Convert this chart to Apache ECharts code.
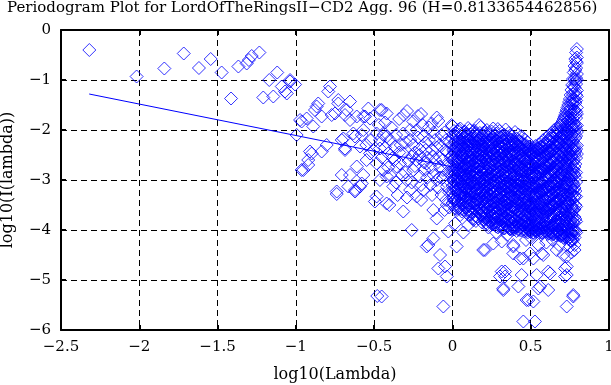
<!DOCTYPE html>
<html>
<head>
<meta charset="utf-8">
<script src="https://cdn.jsdelivr.net/npm/echarts@6/dist/echarts.min.js"></script>
<style>html,body{margin:0;padding:0;background:#fff}#c{width:611px;height:385px}</style>
</head>
<body>
<div id="c"></div>
<script>
// ---- data ----
const titleText = "Periodogram Plot for LordOfTheRingsII\u2212CD2 Agg. 96 (H=0.8133654462856)";
const xName = "log10(Lambda)";
const yName = "log10(I(lambda))";

// sparse low-frequency points [log10(lambda), log10(I)]
const leftPts = [
 [-2.319,-0.40],[-2.017,-0.93],[-1.84,-0.77],[-1.716,-0.47],[-1.619,-0.76],[-1.544,-0.58],
 [-1.474,-0.85],[-1.414,-1.37],[-1.367,-0.73],[-1.314,-0.67],[-1.30,-0.60],[-1.282,-0.52],
 [-1.233,-0.45],[-1.170,-1.0],[-1.119,-0.85],[-1.208,-1.35],[-1.144,-1.33],[-1.090,-1.13],
 [-1.058,-1.27],[-1.037,-1.0],[-1.005,-1.09],[-1.037,-1.03],[-1.069,-1.23],[-0.995,-2.1],
 [-0.963,-1.83],[-0.931,-1.77],[-0.889,-1.93],[-0.867,-1.53],[-0.899,-2.47],[-0.963,-2.8],
 [-0.921,-2.7],[-0.973,-1.8],[-0.910,-2.43]
];
// mid-frequency points
const midPts = [
 [-0.782,-1.13],[-0.793,-1.23],[-0.857,-1.47],[-0.878,-1.6],[-0.729,-1.47],[-0.654,-1.43],
 [-0.750,-1.67],[-0.686,-1.7],[-0.654,-1.8],[-0.835,-1.73],[-0.537,-1.57],[-0.526,-1.77],
 [-0.569,-1.73],[-0.452,-1.6],[-0.42,-1.67],[-0.803,-2.3],[-0.921,-2.6],[-0.707,-2.2],
 [-0.686,-2.4],[-0.622,-2.13],[-0.579,-2.1],[-0.611,-2.73],[-0.654,-2.9],[-0.569,-2.9],
 [-0.59,-3.13],[-0.739,-3.23],[-0.548,-2.6],[-0.505,-2.4],[-0.463,-2.2],[-0.484,-3.33],
 [-0.42,-2.13],[-0.41,-2.47],[-0.42,-2.93],[-0.739,-3.28],[-0.622,-3.23],[-0.495,-3.43],
 [-0.42,-3.47],[-0.729,-1.4],[-0.675,-1.6],[-0.771,-1.7],[-0.463,-1.6],[-0.611,-1.73],
 [-0.558,-1.73],[-0.25,-1.83],[-0.133,-1.87],[-0.228,-2.0],[-0.314,-2.07],[-0.186,-2.13],
 [-0.005,-1.9],[-0.952,-2.8],[-0.707,-2.9],[-0.665,-3.13],[-0.579,-3.07],[-0.622,-3.2],
 [-0.399,-2.9],[-0.356,-2.73],[-0.484,-2.67],[-0.526,-2.47],[-0.59,-2.33],[-0.686,-2.37],
 [-0.835,-2.43],[-0.697,-2.17],[-0.633,-2.07],[-0.569,-2.0],[-0.484,-2.07],[-0.441,-2.1],
 [-0.399,-2.2],[-0.367,-2.33],[-0.463,-2.37],[-0.314,-2.47],[-0.26,-2.53],[-0.335,-2.67],
 [-0.25,-2.8],[-0.207,-2.93],[-0.292,-3.0],[-0.164,-2.67],[-0.122,-2.53],[-0.079,-2.73],
 [-0.1,-3.0],[-0.036,-3.13],[-0.186,-3.2],[-0.378,-3.13],[-0.463,-3.0],[-0.403,-3.5],
 [-0.314,-3.63],[-0.26,-4.0],[-0.228,-3.33],[-0.122,-3.6],[-0.1,-3.77],[-0.036,-3.5],
 [-0.34,-1.78],[-0.29,-1.62],[-0.22,-1.72],[-0.15,-1.95],[-0.09,-1.82],[-0.05,-2.05],
 [-0.33,-2.3],[-0.27,-2.2],[-0.21,-2.38],[-0.17,-2.25],[-0.13,-2.4],[-0.08,-2.3],
 [-0.03,-2.45],[-0.3,-2.85],[-0.23,-2.6],[-0.18,-2.8],[-0.12,-2.9],[-0.06,-2.6],
 [-0.02,-2.85],[-0.14,-3.1],[-0.07,-3.3],[-0.02,-3.25],[-0.27,-3.2],[-0.2,-3.4],
 [-0.11,-2.2],[-0.04,-2.2],[-0.16,-2.55],[-0.24,-2.45],[-0.06,-2.95],[-0.01,-3.05],
 [-0.38,-2.55],[-0.35,-3.3],[-0.44,-2.8],[-0.52,-2.2],[-0.55,-2.3],[-0.47,-1.9],
 [-0.45,-2.55],[-0.43,-2.35],[-0.41,-2.75],[-0.39,-1.95],[-0.37,-2.6],[-0.36,-2.1],
 [-0.34,-2.45],[-0.32,-2.9],[-0.31,-1.7],[-0.3,-2.25],[-0.28,-2.62],[-0.27,-2.0],
 [-0.26,-3.05],[-0.25,-2.3],[-0.24,-2.72],[-0.22,-2.15],[-0.21,-2.5],[-0.2,-3.1],
 [-0.19,-1.9],[-0.18,-2.65],[-0.17,-2.4],[-0.15,-2.2],[-0.14,-2.75],[-0.13,-3.3],
 [-0.12,-2.05],[-0.11,-2.6],[-0.1,-2.35],[-0.09,-3.15],[-0.08,-2.55],[-0.07,-2.1],
 [-0.06,-2.8],[-0.05,-2.4],[-0.04,-3.4],[-0.03,-2.7],[-0.02,-2.25],[-0.01,-2.55],
 [-0.2,-1.68],[-0.1,-1.75],[-0.43,-1.85],[-0.36,-3.05],[-0.29,-3.35],[-0.16,-2.95],
 [-0.08,-2.95],[-0.05,-3.6],[-0.02,-3.55]
];
// isolated low points under the dense cloud
const lowPts = [
 [-0.480,-5.32],[-0.452,-5.33],[-0.122,-4.17],[-0.164,-4.33],[-0.154,-4.3],[-0.079,-4.5],
 [-0.09,-4.77],[-0.047,-4.73],[-0.036,-4.93],[-0.058,-5.53],[-0.026,-4.03],[0.027,-4.33],
 [0.017,-3.87],[0.038,-3.57],[0.134,-3.8],[0.197,-4.4],[0.208,-4.4],[0.261,-4.27],
 [0.315,-4.23],[0.315,-4.83],[0.336,-4.93],[0.325,-5.2],[0.304,-4.93],[0.336,-4.83],
 [0.325,-5.17],[0.421,-5.13],[0.442,-4.9],[0.474,-5.4],[0.485,-5.4],[0.517,-5.43],
 [0.453,-5.83],[0.527,-5.83],[0.538,-4.9],[0.549,-5.17],[0.559,-5.13],[0.612,-5.2],
 [0.623,-4.87],[0.612,-4.83],[0.389,-4.47],[0.389,-4.33],[0.389,-4.3],[0.496,-4.47],
 [0.432,-4.57],[0.453,-4.57],[0.517,-4.57],[0.57,-4.47],[0.58,-4.5],[0.719,-4.77],
 [0.73,-4.9],[0.719,-4.93],[0.73,-4.73],[0.772,-5.3],[0.772,-5.33],[0.73,-5.53],
 [0.666,-4.4],[0.708,-4.5],[0.73,-4.53],[0.751,-4.33],[0.50,-4.15],[0.47,-4.2],
 [0.60,-4.25],[0.64,-4.2],[0.55,-4.3],[0.35,-4.1],[0.28,-4.05],[0.23,-3.95],
 [0.1,-3.9],[0.07,-4.05],[0.68,-4.3],[0.76,-4.45],[0.78,-4.4]
];
// dense cloud: x positions and the y values read in each thin column
const denseX = [0.00,0.02,0.04,0.06,0.08,0.10,0.12,0.14,0.16,0.18,0.20,0.22,0.24,0.26,0.28,0.30,0.32,0.34,0.36,0.38,
 0.40,0.41,0.42,0.43,0.44,0.45,0.46,0.47,0.48,0.49,0.50,0.51,0.52,0.53,0.54,0.55,0.56,0.57,0.58,0.59,
 0.60,0.61,0.62,0.63,0.64,0.65,0.66,0.67,0.68,0.69,0.70,0.71,0.72,0.73,0.74,0.75,0.76,0.77,0.78,0.79,0.795];
const denseY = [
 [-1.92,-2.17,-2.29,-2.51,-2.6,-2.83,-2.94,-3.12,-3.25,-3.46],
 [-2.06,-2.21,-2.43,-2.55,-2.75,-2.86,-3.05,-3.15,-3.38,-3.57],
 [-1.99,-2.23,-2.33,-2.56,-2.66,-2.87,-2.98,-3.17,-3.29,-3.52],
 [-2.1,-2.25,-2.47,-2.58,-2.79,-2.9,-3.09,-3.2,-3.42,-3.63],
 [-2.03,-2.24,-2.36,-2.57,-2.68,-2.88,-3.0,-3.19,-3.31,-3.55],
 [-1.96,-2.19,-2.31,-2.52,-2.62,-2.82,-2.93,-3.13,-3.23,-3.45,-3.6],
 [-2.08,-2.23,-2.44,-2.56,-2.71,-2.9,-3.01,-3.22,-3.33,-3.55,-3.69],
 [-2.01,-2.22,-2.34,-2.55,-2.65,-2.85,-2.96,-3.16,-3.26,-3.48,-3.62],
 [-2.12,-2.27,-2.48,-2.59,-2.78,-2.89,-3.09,-3.19,-3.4,-3.52,-3.74],
 [-1.94,-2.18,-2.3,-2.51,-2.61,-2.82,-2.92,-3.12,-3.22,-3.43,-3.55,-3.7],
 [-2.05,-2.2,-2.42,-2.53,-2.73,-2.83,-3.03,-3.14,-3.34,-3.45,-3.66,-3.79],
 [-2.0,-2.21,-2.32,-2.53,-2.63,-2.83,-2.94,-3.14,-3.25,-3.46,-3.57,-3.77,-3.88],
 [-2.1,-2.24,-2.46,-2.57,-2.77,-2.87,-3.07,-3.18,-3.39,-3.5,-3.71,-3.82],
 [-1.97,-2.19,-2.29,-2.5,-2.6,-2.8,-2.9,-3.11,-3.21,-3.42,-3.53,-3.74,-3.89],
 [-2.07,-2.21,-2.43,-2.54,-2.74,-2.84,-3.04,-3.15,-3.35,-3.46,-3.67,-3.77,-3.93],
 [-2.02,-2.23,-2.34,-2.55,-2.65,-2.85,-2.95,-3.16,-3.26,-3.47,-3.58,-3.79,-3.9],
 [-2.11,-2.26,-2.48,-2.58,-2.78,-2.88,-3.08,-3.19,-3.4,-3.51,-3.72,-3.83,-3.97],
 [-1.99,-2.2,-2.31,-2.52,-2.62,-2.82,-2.92,-3.13,-3.23,-3.44,-3.55,-3.76,-3.88],
 [-2.06,-2.22,-2.44,-2.55,-2.75,-2.85,-3.05,-3.16,-3.36,-3.47,-3.68,-3.79,-3.96],
 [-2.13,-2.27,-2.49,-2.6,-2.8,-2.9,-3.1,-3.21,-3.42,-3.53,-3.74,-3.85,-4.0],
 [-2.04,-2.29,-2.45,-2.69,-2.82,-3.05,-3.19,-3.42,-3.56,-3.8,-3.95],
 [-2.17,-2.33,-2.58,-2.71,-2.96,-3.09,-3.33,-3.46,-3.7,-3.84,-4.02],
 [-2.09,-2.34,-2.48,-2.72,-2.86,-3.09,-3.23,-3.47,-3.6,-3.84,-3.98],
 [-2.22,-2.38,-2.63,-2.76,-3.0,-3.14,-3.38,-3.51,-3.75,-3.88],
 [-2.12,-2.37,-2.51,-2.75,-2.88,-3.12,-3.26,-3.5,-3.63,-3.87,-4.01],
 [-2.26,-2.41,-2.66,-2.79,-3.03,-3.17,-3.41,-3.54,-3.78,-3.91],
 [-2.19,-2.35,-2.6,-2.73,-2.98,-3.11,-3.35,-3.49,-3.72,-3.86,-4.03],
 [-2.3,-2.45,-2.7,-2.83,-3.07,-3.21,-3.45,-3.58,-3.82,-3.95],
 [-2.24,-2.39,-2.64,-2.77,-3.01,-3.15,-3.39,-3.52,-3.76,-3.9,-4.05],
 [-2.33,-2.49,-2.74,-2.87,-3.11,-3.25,-3.49,-3.62,-3.86,-4.0],
 [-2.38,-2.53,-2.78,-2.91,-3.15,-3.29,-3.52,-3.66,-3.9,-4.04],
 [-2.35,-2.47,-2.72,-2.85,-3.09,-3.23,-3.46,-3.6,-3.84,-3.97],
 [-2.4,-2.55,-2.8,-2.94,-3.17,-3.31,-3.55,-3.68,-3.92,-4.06],
 [-2.32,-2.56,-2.69,-2.93,-3.07,-3.31,-3.44,-3.68,-3.81,-4.01],
 [-2.37,-2.52,-2.77,-2.91,-3.14,-3.28,-3.52,-3.65,-3.89,-4.03],
 [-2.29,-2.45,-2.7,-2.84,-3.07,-3.21,-3.45,-3.58,-3.82,-3.96],
 [-2.34,-2.49,-2.74,-2.87,-3.11,-3.25,-3.48,-3.62,-3.86,-4.02],
 [-2.25,-2.42,-2.67,-2.81,-3.04,-3.18,-3.42,-3.55,-3.79,-3.92,-4.06],
 [-2.2,-2.44,-2.57,-2.82,-2.95,-3.19,-3.33,-3.56,-3.7,-3.94,-4.04],
 [-2.27,-2.44,-2.69,-2.83,-3.06,-3.2,-3.44,-3.57,-3.81,-3.96],
 [-2.15,-2.39,-2.52,-2.77,-2.9,-3.14,-3.28,-3.51,-3.65,-3.89,-4.03],
 [-2.22,-2.46,-2.59,-2.84,-2.97,-3.21,-3.35,-3.58,-3.72,-3.96,-4.08],
 [-2.1,-2.34,-2.47,-2.72,-2.85,-3.09,-3.23,-3.46,-3.6,-3.84,-3.99],
 [-2.17,-2.41,-2.54,-2.79,-2.92,-3.16,-3.3,-3.53,-3.67,-3.91,-4.05],
 [-2.05,-2.29,-2.42,-2.67,-2.8,-3.04,-3.18,-3.41,-3.55,-3.79,-3.95,-4.09],
 [-2.0,-2.24,-2.37,-2.62,-2.75,-2.99,-3.13,-3.36,-3.5,-3.74,-3.9,-4.06],
 [-2.08,-2.32,-2.45,-2.7,-2.83,-3.07,-3.21,-3.44,-3.58,-3.82,-3.98,-4.11],
 [-1.95,-2.19,-2.32,-2.57,-2.7,-2.94,-3.08,-3.31,-3.45,-3.69,-3.85,-4.03],
 [-2.02,-2.26,-2.39,-2.64,-2.77,-3.01,-3.15,-3.38,-3.52,-3.76,-3.92,-4.1],
 [-1.9,-2.14,-2.27,-2.52,-2.65,-2.89,-3.03,-3.26,-3.4,-3.64,-3.8,-3.99,-4.12],
 [-1.86,-2.09,-2.22,-2.47,-2.6,-2.84,-2.98,-3.21,-3.35,-3.59,-3.75,-3.94,-4.08],
 [-1.78,-2.01,-2.14,-2.39,-2.53,-2.77,-2.91,-3.15,-3.29,-3.53,-3.67,-3.88,-4.05,-4.16],
 [-1.7,-1.94,-2.07,-2.32,-2.46,-2.7,-2.84,-3.08,-3.22,-3.46,-3.6,-3.81,-4.0,-4.13],
 [-1.6,-1.85,-1.99,-2.24,-2.38,-2.62,-2.76,-3.0,-3.14,-3.38,-3.52,-3.75,-3.92,-4.1],
 [-1.5,-1.75,-1.9,-2.16,-2.31,-2.55,-2.69,-2.93,-3.07,-3.31,-3.45,-3.69,-3.85,-4.04,-4.18],
 [-1.38,-1.63,-1.79,-2.06,-2.21,-2.47,-2.62,-2.86,-3.0,-3.24,-3.38,-3.62,-3.78,-3.97,-4.14],
 [-1.2,-1.47,-1.65,-1.93,-2.1,-2.36,-2.52,-2.77,-2.92,-3.16,-3.3,-3.54,-3.7,-3.89,-4.08,-4.22],
 [-0.98,-1.28,-1.47,-1.77,-1.95,-2.22,-2.39,-2.65,-2.81,-3.06,-3.21,-3.46,-3.61,-3.85,-4.03,-4.2],
 [-0.72,-0.98,-1.15,-1.43,-1.6,-1.87,-2.04,-2.31,-2.48,-2.74,-2.9,-3.16,-3.32,-3.58,-3.74,-3.99,-4.15,-4.3],
 [-0.45,-0.63,-0.76,-0.96,-1.08,-1.3,-1.41,-1.63,-1.76,-1.98,-2.12,-2.38,-2.56,-2.85,-3.04,-3.33,-3.53,-3.83,-4.05],
 [-0.38,-0.55,-0.66,-0.88,-1.0,-1.21,-1.33,-1.55,-1.68,-1.91,-2.04,-2.31,-2.48]
];
// more columns of the dense cloud, read between the ones above
const denseX2 = [0.01,0.03,0.05,0.07,0.09,0.11,0.13,0.15,0.17,0.19,0.21,0.23,0.25,0.27,0.29,0.31,0.33,0.35,0.37,0.39,
 0.405,0.415,0.425,0.435,0.445,0.455,0.465,0.475,0.485,0.495,0.505,0.515,0.525,0.535,0.545,0.555,0.565,0.575,0.585,0.595,
 0.605,0.615,0.625,0.635,0.645,0.655,0.665,0.675,0.685,0.695,0.705,0.715,0.725,0.735,0.745,0.755,0.765,0.775,0.785];
const denseY2 = [
 [-2.02,-2.36,-2.44,-2.7,-2.91,-3.03,-3.34,-3.41],
 [-2.13,-2.3,-2.62,-2.69,-2.97,-3.08,-3.24,-3.6],
 [-1.97,-2.27,-2.4,-2.66,-2.81,-3.04,-3.27,-3.45,-3.7],
 [-2.15,-2.34,-2.53,-2.74,-2.96,-3.14,-3.36,-3.49],
 [-2.08,-2.3,-2.45,-2.65,-2.77,-2.99,-3.18,-3.38,-3.66],
 [-2.0,-2.27,-2.39,-2.62,-2.85,-3.06,-3.2,-3.41,-3.58],
 [-2.14,-2.33,-2.5,-2.68,-2.8,-3.07,-3.27,-3.46,-3.77],
 [-2.06,-2.25,-2.41,-2.63,-2.87,-2.99,-3.24,-3.39,-3.6,-3.82],
 [-1.9,-2.21,-2.36,-2.55,-2.71,-2.97,-3.14,-3.3,-3.48,-3.67],
 [-2.11,-2.3,-2.47,-2.64,-2.86,-3.07,-3.2,-3.37,-3.61,-3.85],
 [-2.04,-2.27,-2.37,-2.6,-2.78,-2.95,-3.19,-3.36,-3.52,-3.72],
 [-2.14,-2.32,-2.5,-2.69,-2.91,-3.09,-3.3,-3.44,-3.63,-3.9],
 [-2.03,-2.25,-2.41,-2.65,-2.83,-2.98,-3.17,-3.33,-3.59,-3.8],
 [-2.12,-2.36,-2.52,-2.69,-2.88,-3.06,-3.24,-3.45,-3.65,-3.85],
 [-1.98,-2.28,-2.46,-2.62,-2.8,-2.99,-3.2,-3.38,-3.56,-3.74,-3.95],
 [-2.15,-2.33,-2.51,-2.7,-2.93,-3.11,-3.31,-3.5,-3.66,-3.88],
 [-2.09,-2.3,-2.43,-2.66,-2.84,-3.02,-3.22,-3.42,-3.61,-3.81,-3.97],
 [-2.18,-2.37,-2.55,-2.72,-2.95,-3.14,-3.29,-3.5,-3.69,-3.92],
 [-2.1,-2.32,-2.5,-2.68,-2.86,-3.06,-3.26,-3.44,-3.64,-3.83,-3.99],
 [-2.2,-2.4,-2.56,-2.76,-2.96,-3.15,-3.34,-3.53,-3.75,-3.94],
 [-2.28,-2.52,-2.64,-2.9,-3.14,-3.28,-3.52,-3.73,-3.91],
 [-2.2,-2.45,-2.77,-2.99,-3.2,-3.4,-3.62,-3.93],
 [-2.31,-2.6,-2.8,-3.03,-3.18,-3.44,-3.66,-3.82,-4.0],
 [-2.25,-2.5,-2.69,-2.92,-3.13,-3.31,-3.57,-3.79,-3.95],
 [-2.36,-2.57,-2.84,-3.05,-3.25,-3.46,-3.68,-3.89],
 [-2.29,-2.54,-2.73,-2.97,-3.18,-3.37,-3.61,-3.84,-3.99],
 [-2.4,-2.62,-2.86,-3.02,-3.28,-3.5,-3.7,-3.93],
 [-2.34,-2.58,-2.77,-2.99,-3.22,-3.4,-3.64,-3.86,-4.02],
 [-2.42,-2.66,-2.88,-3.08,-3.3,-3.53,-3.75,-3.96],
 [-2.45,-2.64,-2.85,-3.03,-3.26,-3.47,-3.69,-3.91,-4.03],
 [-2.43,-2.68,-2.9,-3.1,-3.33,-3.56,-3.77,-3.98],
 [-2.46,-2.63,-2.83,-3.06,-3.28,-3.5,-3.72,-3.92,-4.05],
 [-2.41,-2.66,-2.89,-3.12,-3.35,-3.57,-3.8,-4.0],
 [-2.44,-2.61,-2.82,-3.04,-3.26,-3.48,-3.7,-3.94,-4.04],
 [-2.38,-2.62,-2.86,-3.1,-3.32,-3.55,-3.76,-3.99],
 [-2.4,-2.58,-2.8,-3.02,-3.24,-3.46,-3.68,-3.9,-4.05],
 [-2.33,-2.59,-2.83,-3.07,-3.3,-3.53,-3.75,-3.97],
 [-2.36,-2.55,-2.77,-3.0,-3.22,-3.44,-3.66,-3.88,-4.06],
 [-2.3,-2.54,-2.79,-3.03,-3.27,-3.5,-3.73,-3.95],
 [-2.32,-2.5,-2.72,-2.95,-3.18,-3.41,-3.63,-3.86,-4.04],
 [-2.26,-2.48,-2.7,-2.93,-3.15,-3.36,-3.58,-3.8,-4.0],
 [-2.18,-2.41,-2.64,-2.87,-3.09,-3.3,-3.52,-3.73,-3.92,-4.07],
 [-2.24,-2.46,-2.68,-2.9,-3.12,-3.34,-3.55,-3.77,-3.97],
 [-2.12,-2.36,-2.6,-2.82,-3.04,-3.26,-3.47,-3.69,-3.9,-4.06],
 [-2.16,-2.4,-2.63,-2.86,-3.08,-3.3,-3.51,-3.72,-3.94,-4.08],
 [-2.05,-2.3,-2.54,-2.77,-3.0,-3.22,-3.43,-3.65,-3.86,-4.04],
 [-2.1,-2.34,-2.57,-2.8,-3.02,-3.25,-3.47,-3.68,-3.9,-4.07],
 [-1.98,-2.23,-2.47,-2.71,-2.94,-3.16,-3.38,-3.6,-3.82,-4.02],
 [-2.04,-2.28,-2.52,-2.75,-2.97,-3.2,-3.42,-3.64,-3.86,-4.05],
 [-1.92,-2.17,-2.41,-2.65,-2.88,-3.1,-3.33,-3.55,-3.77,-3.98,-4.1],
 [-1.82,-2.08,-2.33,-2.57,-2.8,-3.03,-3.26,-3.48,-3.7,-3.92,-4.1],
 [-1.74,-1.99,-2.24,-2.49,-2.73,-2.96,-3.19,-3.42,-3.64,-3.86,-4.06],
 [-1.65,-1.91,-2.16,-2.41,-2.65,-2.89,-3.12,-3.35,-3.58,-3.8,-4.02,-4.15],
 [-1.55,-1.82,-2.08,-2.33,-2.58,-2.82,-3.06,-3.29,-3.52,-3.74,-3.96,-4.12],
 [-1.44,-1.71,-1.98,-2.24,-2.49,-2.74,-2.98,-3.22,-3.45,-3.68,-3.9,-4.1],
 [-1.3,-1.58,-1.86,-2.13,-2.4,-2.65,-2.9,-3.14,-3.38,-3.61,-3.84,-4.05,-4.2],
 [-1.1,-1.4,-1.7,-1.98,-2.26,-2.53,-2.79,-3.04,-3.29,-3.53,-3.77,-4.0,-4.18],
 [-0.85,-1.12,-1.38,-1.62,-1.88,-2.12,-2.37,-2.6,-2.86,-3.1,-3.36,-3.6,-3.85,-4.1],
 [-0.58,-0.8,-1.02,-1.24,-1.46,-1.7,-1.92,-2.16,-2.42,-2.68,-2.95,-3.22,-3.5,-3.78,-4.02]
];
// a third pass of columns filling the left half of the dense cloud
const denseX3 = [0.005,0.015,0.025,0.035,0.045,0.055,0.065,0.075,0.085,0.095,0.105,0.115,0.125,0.135,0.145,0.155,0.165,0.175,0.185,0.195,
 0.205,0.215,0.225,0.235,0.245,0.255,0.265,0.275,0.285,0.295,0.305,0.315,0.325,0.335,0.345,0.355,0.365,0.375,0.385,0.395];
const denseY3 = [
 [-2.09,-2.4,-2.58,-2.77,-2.99,-3.2,-3.36],
 [-2.25,-2.47,-2.64,-2.86,-3.1,-3.3,-3.5],
 [-2.12,-2.34,-2.52,-2.79,-2.93,-3.21,-3.43],
 [-2.02,-2.39,-2.6,-2.81,-3.02,-3.19,-3.41],
 [-2.18,-2.42,-2.63,-2.84,-3.06,-3.28,-3.55],
 [-2.07,-2.32,-2.51,-2.73,-2.98,-3.13,-3.35,-3.58],
 [-2.2,-2.37,-2.62,-2.85,-3.03,-3.26,-3.47],
 [-2.05,-2.29,-2.49,-2.7,-2.91,-3.11,-3.32,-3.6],
 [-2.16,-2.38,-2.6,-2.82,-3.05,-3.24,-3.45],
 [-2.11,-2.35,-2.55,-2.76,-2.97,-3.17,-3.37,-3.54],
 [-2.23,-2.43,-2.66,-2.88,-3.08,-3.29,-3.5,-3.7],
 [-2.09,-2.31,-2.54,-2.75,-2.95,-3.16,-3.36,-3.63],
 [-2.17,-2.39,-2.61,-2.83,-3.04,-3.25,-3.44,-3.66],
 [-2.03,-2.28,-2.47,-2.71,-2.93,-3.13,-3.34,-3.55],
 [-2.2,-2.44,-2.64,-2.86,-3.06,-3.27,-3.49,-3.72],
 [-2.11,-2.33,-2.55,-2.77,-2.98,-3.18,-3.4,-3.62],
 [-2.22,-2.41,-2.63,-2.85,-3.07,-3.28,-3.5,-3.77],
 [-2.06,-2.3,-2.5,-2.73,-2.95,-3.16,-3.38,-3.59],
 [-2.19,-2.4,-2.61,-2.82,-3.03,-3.24,-3.46,-3.7],
 [-2.1,-2.33,-2.56,-2.78,-2.99,-3.21,-3.42,-3.64],
 [-2.22,-2.45,-2.67,-2.89,-3.1,-3.32,-3.54,-3.76],
 [-2.12,-2.36,-2.58,-2.8,-3.02,-3.23,-3.45,-3.68,-3.85],
 [-2.24,-2.46,-2.68,-2.9,-3.12,-3.34,-3.56,-3.79],
 [-2.08,-2.31,-2.54,-2.76,-2.98,-3.2,-3.41,-3.63,-3.84],
 [-2.19,-2.42,-2.64,-2.86,-3.08,-3.3,-3.52,-3.74],
 [-2.14,-2.37,-2.6,-2.82,-3.04,-3.26,-3.48,-3.7,-3.88],
 [-2.25,-2.47,-2.69,-2.91,-3.13,-3.35,-3.57,-3.79],
 [-2.11,-2.34,-2.57,-2.79,-3.01,-3.23,-3.45,-3.67,-3.9],
 [-2.22,-2.44,-2.66,-2.88,-3.1,-3.32,-3.54,-3.76],
 [-2.15,-2.38,-2.61,-2.83,-3.05,-3.27,-3.49,-3.71,-3.92],
 [-2.26,-2.48,-2.7,-2.92,-3.14,-3.36,-3.58,-3.81],
 [-2.13,-2.36,-2.59,-2.81,-3.03,-3.25,-3.47,-3.69,-3.94],
 [-2.24,-2.46,-2.68,-2.9,-3.12,-3.34,-3.56,-3.78],
 [-2.17,-2.4,-2.63,-2.85,-3.07,-3.29,-3.51,-3.73,-3.96],
 [-2.28,-2.5,-2.72,-2.94,-3.16,-3.38,-3.6,-3.82],
 [-2.14,-2.37,-2.6,-2.82,-3.04,-3.26,-3.48,-3.7,-3.93],
 [-2.27,-2.49,-2.71,-2.93,-3.15,-3.37,-3.59,-3.81,-3.98],
 [-2.19,-2.42,-2.65,-2.87,-3.09,-3.31,-3.53,-3.75,-3.97],
 [-2.3,-2.52,-2.74,-2.96,-3.18,-3.4,-3.62,-3.84],
 [-2.23,-2.46,-2.69,-2.91,-3.13,-3.35,-3.57,-3.79,-3.99]
];
// fitted regression line (slope 1-2H)
const fitLine = [[-2.32,-1.28],[0.798,-3.24]];
const xRange = [-2.5, 1, 0.5];
const yRange = [-6, 0, 1];

// ---- chart ----
const pts = [].concat(leftPts, midPts, lowPts);
denseX.forEach((x, i) => denseY[i].forEach(y => pts.push([x, y])));
denseX2.forEach((x, i) => denseY2[i].forEach(y => pts.push([x, y])));
denseX3.forEach((x, i) => denseY3[i].forEach(y => pts.push([x, y])));

const FONT = 'DejaVu Serif';
const minus = v => (v < 0 ? '\u2212' : '') + Math.abs(v);
const frame = {color: '#000', width: 2};
const grid = {color: '#000', width: 1, type: [6, 4]};
const tickTxt = {color: '#000', fontFamily: FONT, fontSize: 15};
const nameTxt = {color: '#000', fontFamily: FONT, fontSize: 16};

const chart = echarts.init(document.getElementById('c'), null, {renderer: 'canvas'});
chart.setOption({
  animation: false,
  backgroundColor: '#fff',
  title: {text: titleText, left: 7, top: 1, padding: 0,
          textStyle: {color: '#000', fontFamily: FONT, fontSize: 15, fontWeight: 'normal'}},
  grid: {left: 61, right: 2, top: 30, bottom: 55, containLabel: false, outerBoundsMode: 'none'},
  xAxis: [
    {type: 'value', min: xRange[0], max: xRange[1], interval: xRange[2], position: 'bottom',
     axisLine: {show: true, onZero: false, lineStyle: frame},
     axisTick: {show: true, inside: true, length: 5, lineStyle: frame},
     axisLabel: Object.assign({margin: 10, formatter: minus}, tickTxt),
     splitLine: {show: true, lineStyle: grid},
     name: xName, nameLocation: 'middle', nameGap: 37, nameTextStyle: nameTxt},
    {type: 'value', min: xRange[0], max: xRange[1], interval: xRange[2], position: 'top',
     axisLine: {show: true, onZero: false, lineStyle: frame},
     axisTick: {show: true, inside: true, length: 5, lineStyle: frame},
     axisLabel: {show: false}, splitLine: {show: false}}
  ],
  yAxis: [
    {type: 'value', min: yRange[0], max: yRange[1], interval: yRange[2], position: 'left',
     axisLine: {show: true, onZero: false, lineStyle: frame},
     axisTick: {show: true, inside: true, length: 5, lineStyle: frame},
     axisLabel: Object.assign({margin: 10, formatter: minus}, tickTxt),
     splitLine: {show: true, lineStyle: grid},
     name: yName, nameLocation: 'middle', nameGap: 45, nameTextStyle: nameTxt},
    {type: 'value', min: yRange[0], max: yRange[1], interval: yRange[2], position: 'right',
     axisLine: {show: true, onZero: false, lineStyle: frame},
     axisTick: {show: true, inside: true, length: 5, lineStyle: frame},
     axisLabel: {show: false}, splitLine: {show: false}}
  ],
  series: [
    {type: 'scatter', data: pts, symbol: 'diamond', symbolSize: 13, silent: true,
     large: false, progressive: 0,
     itemStyle: {color: 'rgba(0,0,0,0)', borderColor: '#0000ff', borderWidth: 1}},
    {type: 'line', data: fitLine, showSymbol: false, symbol: 'none', silent: true,
     lineStyle: {color: '#0000ff', width: 1}}
  ]
});
</script>
</body>
</html>
